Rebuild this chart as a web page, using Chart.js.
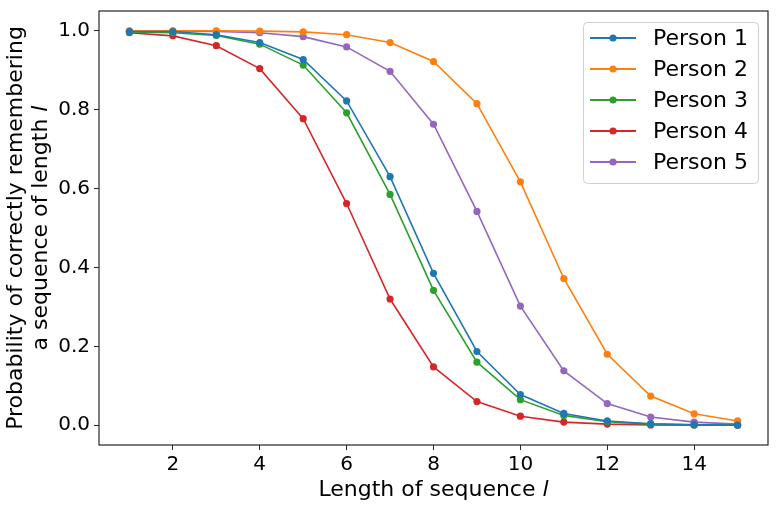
<!DOCTYPE html>
<html>
<head>
<meta charset="utf-8">
<script src="https://cdn.jsdelivr.net/npm/chart.js@4.4.0/dist/chart.umd.min.js"></script>
<style>
  html, body { margin: 0; padding: 0; background: #fff; }
  #wrap { width: 779px; height: 507px; }
</style>
</head>
<body>
<div id="wrap"><canvas id="recall"></canvas></div>
<script>
const lengths = [1, 2, 3, 4, 5, 6, 7, 8, 9, 10, 11, 12, 13, 14, 15];
const person1 = [0.998, 0.998, 0.990, 0.970, 0.927, 0.822, 0.630, 0.385, 0.187, 0.078, 0.030, 0.011, 0.004, 0.0015, 0.0005];
const person2 = [1.000, 1.000, 1.000, 0.999, 0.997, 0.990, 0.970, 0.922, 0.815, 0.617, 0.372, 0.180, 0.074, 0.029, 0.011];
const person3 = [0.997, 0.995, 0.988, 0.966, 0.913, 0.792, 0.585, 0.342, 0.160, 0.065, 0.025, 0.009, 0.003, 0.001, 0.0005];
const person4 = [0.995, 0.987, 0.962, 0.904, 0.777, 0.562, 0.320, 0.148, 0.060, 0.023, 0.008, 0.003, 0.001, 0.0005, 0.0002];
const person5 = [0.999, 0.999, 0.998, 0.995, 0.985, 0.959, 0.897, 0.763, 0.542, 0.302, 0.138, 0.055, 0.021, 0.008, 0.003];
const seriesNames = ['Person 1', 'Person 2', 'Person 3', 'Person 4', 'Person 5'];
const xTicks = [2, 4, 6, 8, 10, 12, 14];
const yTicks = [0.0, 0.2, 0.4, 0.6, 0.8, 1.0];

const colors = ['#1f77b4', '#ff7f0e', '#2ca02c', '#d62728', '#9467bd'];
const allSeries = [person1, person2, person3, person4, person5];
const FONT = "'DejaVu Sans', sans-serif";

// writes "text" then an italic "l", centred on x
function labelWithItalic(ctx, plain, ital, x, y) {
    ctx.font = '22px ' + FONT;
    const w1 = ctx.measureText(plain).width;
    ctx.font = 'italic 22px ' + FONT;
    const w2 = ctx.measureText(ital).width;
    const start = x - (w1 + w2) / 2;
    ctx.font = '22px ' + FONT;
    ctx.fillText(plain, start, y);
    ctx.font = 'italic 22px ' + FONT;
    ctx.fillText(ital, start + w1, y);
}

// box around the plot, axis titles and matplotlib-like legend
const framePlugin = {
    id: 'frame',
    afterDraw(chart) {
        const ctx = chart.ctx;
        const a = chart.chartArea;
        ctx.save();
        ctx.strokeStyle = '#262626';
        ctx.lineWidth = 1.2;
        ctx.strokeRect(a.left, a.top, a.right - a.left, a.bottom - a.top);

        // axis titles
        ctx.fillStyle = '#000';
        ctx.textBaseline = 'alphabetic';
        ctx.textAlign = 'left';
        labelWithItalic(ctx, 'Length of sequence ', 'l', (a.left + a.right) / 2, 496);
        ctx.save();
        ctx.translate(0, (a.top + a.bottom) / 2);
        ctx.rotate(-Math.PI / 2);
        ctx.font = '22px ' + FONT;
        ctx.textAlign = 'center';
        ctx.fillText('Probability of correctly remembering', 0, 22);
        ctx.textAlign = 'left';
        labelWithItalic(ctx, 'a sequence of length ', 'l', 0, 47);
        ctx.restore();

        // legend
        const bx = 583, by = 22, bw = 175, bh = 161;
        ctx.fillStyle = 'rgba(255,255,255,0.8)';
        ctx.strokeStyle = '#d0d0d0';
        ctx.lineWidth = 1;
        ctx.beginPath();
        ctx.roundRect(bx + 0.5, by + 0.5, bw, bh, 4);
        ctx.fill();
        ctx.stroke();
        ctx.font = '22px ' + FONT;
        ctx.textBaseline = 'middle';
        seriesNames.forEach((name, i) => {
            const y = 38 + i * 31;
            ctx.strokeStyle = colors[i];
            ctx.lineWidth = 1.8;
            ctx.beginPath();
            ctx.moveTo(590, y);
            ctx.lineTo(636, y);
            ctx.stroke();
            ctx.fillStyle = colors[i];
            ctx.beginPath();
            ctx.arc(613, y, 3.6, 0, Math.PI * 2);
            ctx.fill();
            ctx.fillStyle = '#000';
            ctx.fillText(name, 653, y + 1);
        });
        ctx.restore();
    }
};

new Chart(document.getElementById('recall'), {
    type: 'line',
    data: {
        datasets: allSeries.map((s, i) => ({
            label: seriesNames[i],
            data: lengths.map((x, j) => ({ x: x, y: s[j] })),
            borderColor: colors[i],
            backgroundColor: colors[i],
            borderWidth: 1.6,
            pointRadius: 3.6,
            pointHoverRadius: 3.6,
            pointBorderWidth: 0,
            tension: 0
        }))
    },
    options: {
        responsive: true,
        maintainAspectRatio: false,
        animation: false,
        layout: { padding: { top: 11, right: 11, left: 0, bottom: 0 } },
        plugins: {
            legend: { display: false },
            tooltip: { enabled: false }
        },
        scales: {
            x: {
                type: 'linear',
                min: 0.3,
                max: 15.7,
                afterBuildTicks: s => { s.ticks = xTicks.map(v => ({ value: v })); },
                afterFit: s => { s.height = 62; s.paddingLeft = 0; s.paddingRight = 0; },
                grid: { drawOnChartArea: false, drawTicks: true, tickLength: 5, color: '#262626' },
                border: { display: false },
                ticks: { color: '#000', font: { family: FONT, size: 20 }, padding: 3, maxRotation: 0 }
            },
            y: {
                min: -0.05,
                max: 1.05,
                afterBuildTicks: s => { s.ticks = yTicks.map(v => ({ value: v })); },
                afterFit: s => { s.width = 99; s.paddingTop = 0; s.paddingBottom = 0; },
                grid: { drawOnChartArea: false, drawTicks: true, tickLength: 5, color: '#262626' },
                border: { display: false },
                ticks: { color: '#000', font: { family: FONT, size: 20 }, padding: 4, callback: v => v.toFixed(1) }
            }
        }
    },
    plugins: [framePlugin]
});
</script>
</body>
</html>
